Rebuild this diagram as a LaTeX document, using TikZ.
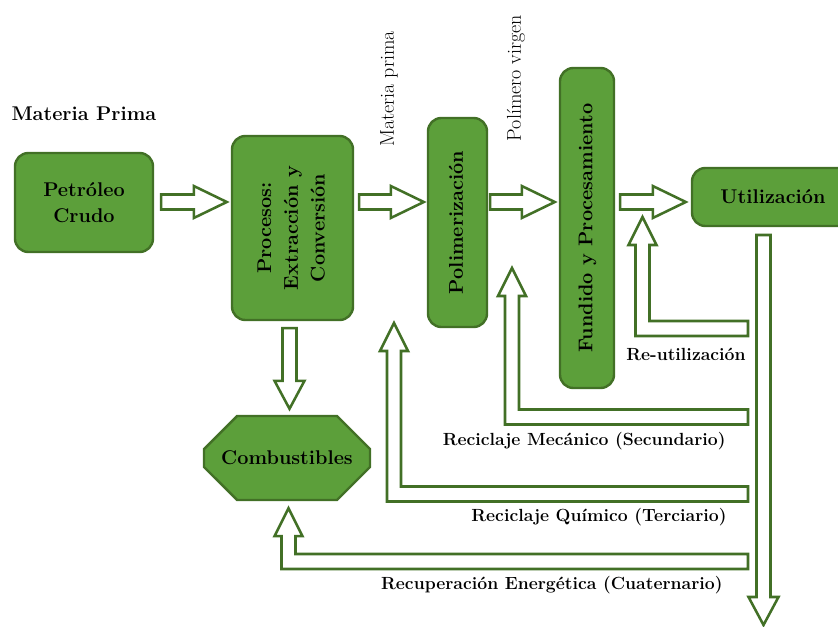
\documentclass[tikz,border=0pt]{standalone}
\usepackage{fontspec}
\usetikzlibrary{calc,shapes.misc}

\definecolor{boxgreen}{RGB}{92,159,58}
\definecolor{edgegreen}{RGB}{66,112,38}

\newcommand{\vtext}[1]{\rotatebox{90}{\begin{tabular}{@{}c@{}}#1\end{tabular}}}

\tikzset{every picture/.style={line width=0.75pt}}
\tikzset{
  stage/.style={draw=edgegreen, fill=boxgreen, line width=1.8pt, rounded corners=10pt,
    font=\fontsize{14.9}{20}\selectfont\bfseries, align=center, inner sep=0pt},
  blockarrow/.style={draw=edgegreen, fill=white, line width=1.9pt},
  lbl/.style={font=\fontsize{13.2}{16}\selectfont\bfseries, inner sep=0.75pt},
  vlbl/.style={rotate=90, font=\fontsize{15}{18}\selectfont, inner sep=0.75pt},
  % right pointing block arrow
  rarrow/.style={to path={
    ($(\tikztostart)+(0,-7.5)$) -- ($(\tikztotarget)+(-33,-7.5)$) -- ($(\tikztotarget)+(-33,-16)$)
    -- (\tikztotarget) -- ($(\tikztotarget)+(-33,16)$) -- ($(\tikztotarget)+(-33,7.5)$)
    -- ($(\tikztostart)+(0,7.5)$) -- cycle}},
  % downward block arrow
  darrow/.style={to path={
    ($(\tikztostart)+(-7,0)$) -- ($(\tikztotarget)+(-7,-28)$) -- ($(\tikztotarget)+(-15,-28)$)
    -- (\tikztotarget) -- ($(\tikztotarget)+(15,-28)$) -- ($(\tikztotarget)+(7,-28)$)
    -- ($(\tikztostart)+(7,0)$) -- cycle}},
  % block arrow coming from the right, turning up
  barrow/.style={to path={
    ($(\tikztostart)+(0,-7.5)$) -- ($(\tikztotarget |- \tikztostart)+(7,-7.5)$)
    -- ($(\tikztotarget)+(7,28)$) -- ($(\tikztotarget)+(14,28)$) -- (\tikztotarget)
    -- ($(\tikztotarget)+(-14,28)$) -- ($(\tikztotarget)+(-7,28)$)
    -- ($(\tikztotarget |- \tikztostart)+(-7,7.5)$) -- ($(\tikztostart)+(0,7.5)$) -- cycle}}
}

\begin{document}
\begin{tikzpicture}[x=0.75pt,y=0.75pt,yscale=-1,xscale=1]
\useasboundingbox (0,0) rectangle (838,627);
\clip (0,0) rectangle (838,627);

% Stages
\node[stage, minimum width=103.5pt, minimum height=74.25pt] (crudo) at (84,202.5) {Petróleo\\Crudo};
\node[stage, minimum width=90.75pt, minimum height=138pt] (procesos) at (292.5,228) {\vtext{Procesos:\\Extracción y\\Conversión}};
\node[stage, minimum width=44.25pt, minimum height=156.75pt] (polim) at (457.5,222.5) {\vtext{Polimerización}};
\node[stage, minimum width=40.5pt, minimum height=240pt] (fundido) at (587,228) {\vtext{Fundido y Procesamiento}};
\node[stage, minimum width=121.5pt, minimum height=43.5pt] (util) at (773,197) {Utilización};
\node[stage, sharp corners, chamfered rectangle, chamfered rectangle xsep=17.25pt, chamfered rectangle ysep=19.5pt,
  minimum width=124.5pt, minimum height=63pt] (comb) at (287,458) {Combustibles};

% Main flow
\coordinate (flow) at (0,202);
\coordinate (a1s) at ($(crudo.east |- flow)+(7,0)$);
\coordinate (a1e) at ($(procesos.west |- flow)+(-4,0)$);
\coordinate (a2s) at ($(procesos.east |- flow)+(5,0)$);
\coordinate (a2e) at ($(polim.west |- flow)+(-3,0)$);
\coordinate (a3s) at ($(polim.east |- flow)+(2,0)$);
\coordinate (a3e) at ($(fundido.west |- flow)+(-4,0)$);
\coordinate (a4s) at ($(fundido.east |- flow)+(5,0)$);
\coordinate (a4e) at ($(util.west |- flow)+(-5,0)$);
\draw[blockarrow] (a1s) to[rarrow] (a1e);
\draw[blockarrow] (a2s) to[rarrow] (a2e);
\draw[blockarrow] (a3s) to[rarrow] (a3e);
\draw[blockarrow] (a4s) to[rarrow] (a4e);

% Down arrows
\coordinate (d1s) at ($(procesos.south)+(-3,7)$);
\coordinate (d1e) at ($(d1s |- comb.north)+(0,-6)$);
\draw[blockarrow] (d1s) to[darrow] (d1e);
\coordinate (d2s) at (763.5,235);
\coordinate (d2e) at (763.5,625);
\draw[blockarrow] (d2s) to[darrow] (d2e);

% Return loops
\coordinate (b1s) at (748,328.5);
\coordinate (b1e) at (642.5,217);
\coordinate (b2s) at (748,417);
\coordinate (b2e) at (512,268);
\coordinate (b3s) at (748,494);
\coordinate (b3e) at (394,323);
\coordinate (b4s) at (748,561.5);
\coordinate (b4e) at ($(comb.south)+(1.5,7)$);
\draw[blockarrow] (b1s) to[barrow] (b1e);
\draw[blockarrow] (b2s) to[barrow] (b2e);
\draw[blockarrow] (b3s) to[barrow] (b3e);
\draw[blockarrow] (b4s) to[barrow] (b4e);

% Labels
\node[anchor=west, font=\fontsize{14.9}{18}\selectfont\bfseries, inner sep=0.75pt] (mp) at (10,114) {Materia Prima};
\node[vlbl] (mprima) at (389,89) {Materia prima};
\node[vlbl] (pvirgen) at (516,78) {Polímero virgen};
\node[lbl] (reuso) at (686,354) {Re-utilización};
\node[lbl, anchor=east] (mecanico) at (727,441) {Reciclaje Mecánico (Secundario)};
\node[lbl, anchor=east] (quimico) at (728,517) {Reciclaje Químico (Terciario)};
\node[lbl, anchor=east] (energia) at (724,585) {Recuperación Energética (Cuaternario)};
\end{tikzpicture}
\end{document}
